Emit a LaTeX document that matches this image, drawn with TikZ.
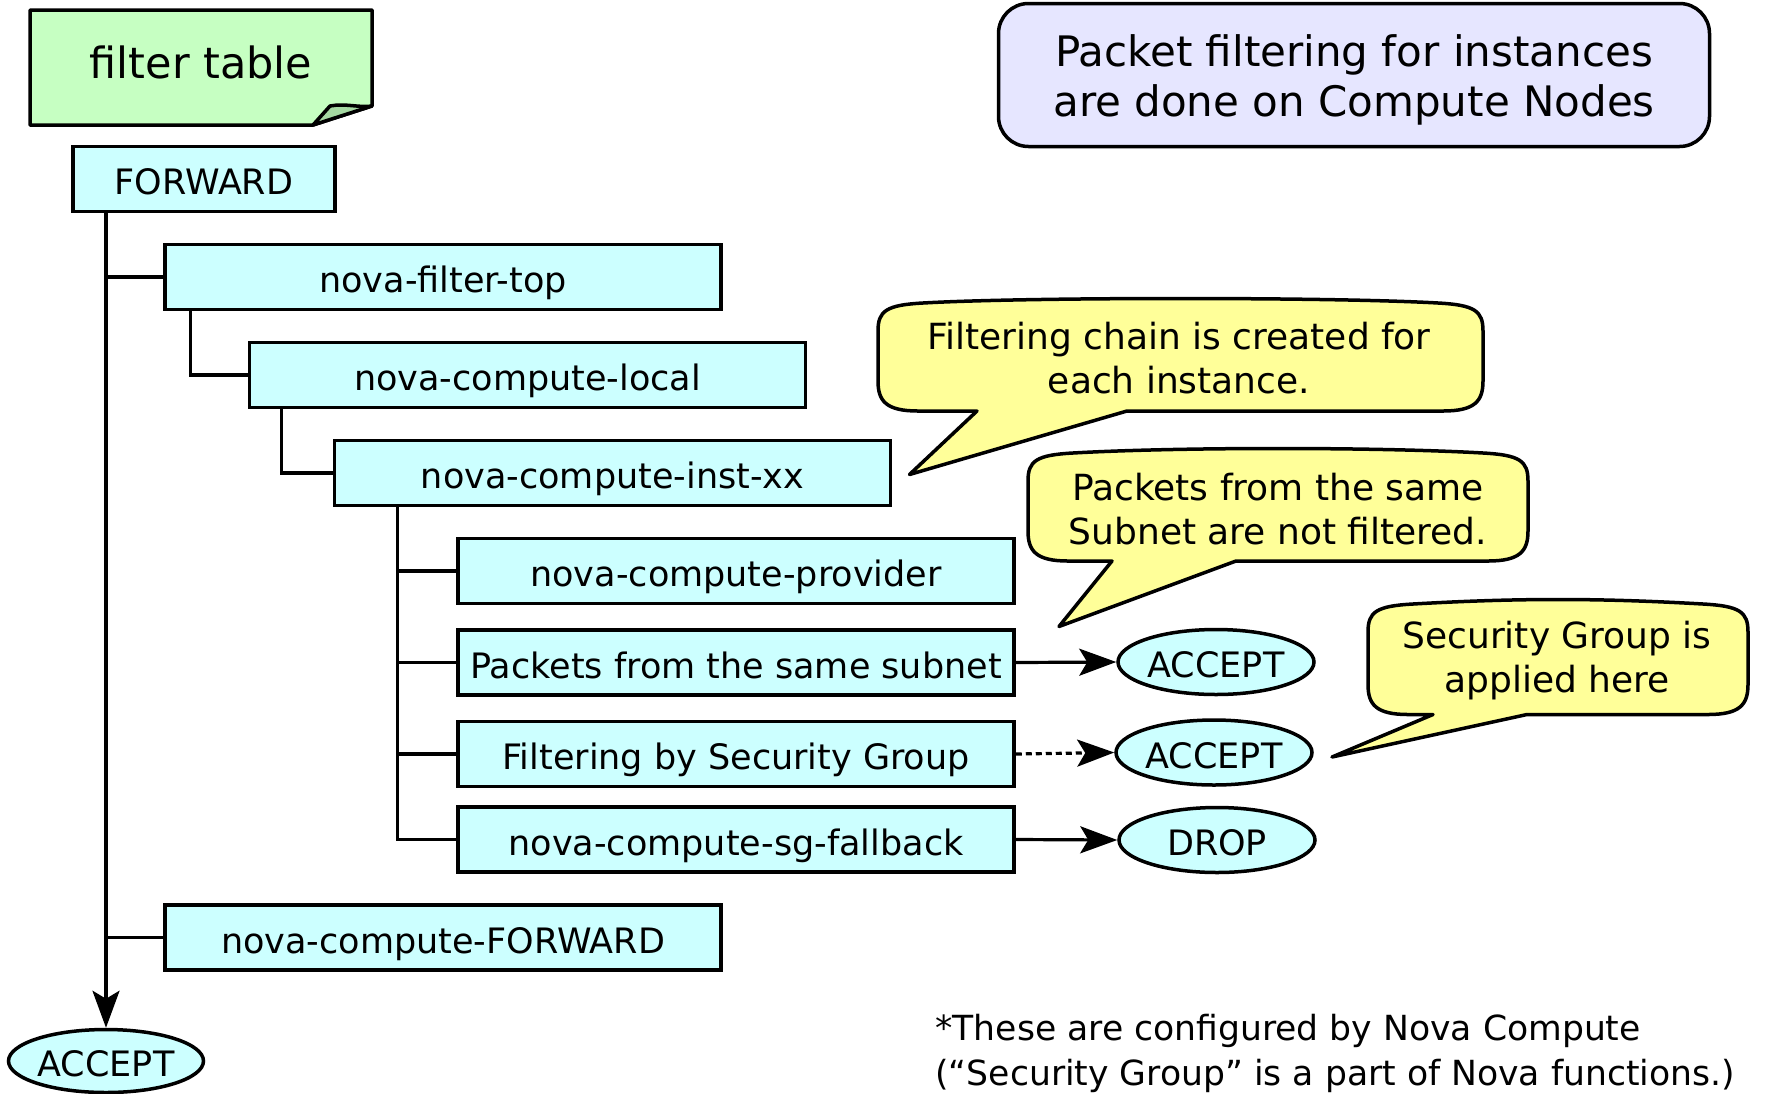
\documentclass[tikz,border=0pt]{standalone}
\usepackage{fontspec}
\setmainfont{DejaVu Sans}
\usetikzlibrary{arrows.meta,shapes.geometric}

\definecolor{chainfill}{HTML}{CCFFFF}
\definecolor{notefill}{HTML}{C6FFC2}
\definecolor{notefold}{HTML}{A5D9A2}
\definecolor{callfill}{HTML}{FFFF99}
\definecolor{infofill}{HTML}{E6E6FF}

\tikzset{
  chainbox/.style={draw, line width=1.75pt, fill=chainfill, minimum width=278pt,
    minimum height=32.5pt, inner sep=0pt, text height=17pt, text depth=1.5pt,
    font=\fontsize{17.5}{21}\selectfont},
  target/.style={draw, ellipse, line width=1.75pt, fill=chainfill, minimum width=98pt,
    minimum height=32.5pt, inner sep=0pt, text height=17pt, text depth=1.5pt,
    font=\fontsize{17.5}{21}\selectfont},
  link/.style={line width=1.6pt},
  jump/.style={line width=1.6pt, -{Stealth[length=18.5pt,width=13.5pt,inset=4pt]}},
  bubble/.style={draw, line width=1.75pt, fill=callfill, line join=round},
  bubbletext/.style={align=center, inner sep=0pt, font=\fontsize{18}{22}\selectfont},
}

% speech bubble: left, top, right, bottom, pointer base left, pointer base right, tip x, tip y
\newcommand{\bubblepath}[8]{%
  \draw[bubble] (#6,#4) -- ({#3-40},#4)
    .. controls ({#3-8},#4) and (#3,{#4-10}) .. (#3,{#4-30})
    -- (#3,{#2+32})
    .. controls (#3,{#2+12}) and ({#3-8},{#2+6}) .. ({#3-45},{#2+4})
    .. controls ({#3-150},{#2-2}) and ({#1+150},{#2-2}) .. ({#1+45},{#2+4})
    .. controls ({#1+8},{#2+6}) and (#1,{#2+12}) .. (#1,{#2+32})
    -- (#1,{#4-30})
    .. controls (#1,{#4-10}) and ({#1+8},#4) .. ({#1+40},#4)
    -- (#5,#4) -- (#7,#8) -- cycle;}

\begin{document}
\begin{tikzpicture}[x=0.5pt,y=-0.5pt]
\useasboundingbox (0,0) rectangle (1767,1093);

% folded note with the table name
\draw[line width=1.75pt, fill=notefill, line join=round]
  (30,10) -- (372,10) -- (372,106) -- (313,125) -- (30,125) -- cycle;
\draw[line width=1.75pt, fill=notefold, line join=round]
  (313,125) -- (330,106) .. controls (345,103) and (360,108) .. (372,106) -- cycle;
\node[font=\fontsize{21.5}{25}\selectfont] (tablename) at (201,62) {filter table};

% information box
\node[draw, rounded corners=15pt, fill=infofill, line width=1.75pt,
  minimum width=355.5pt, minimum height=71.5pt, align=center,
  font=\fontsize{21}{25}\selectfont] (info) at (1354,75) {};
\node[align=center, inner sep=0pt, font=\fontsize{21}{25}\selectfont]
  (infotext) at (1354,79.5) {Packet filtering for instances\\are done on Compute Nodes};

% chains
\node[chainbox, minimum width=131pt] (fwd) at (204,179) {FORWARD};
\node[chainbox] (ftop) at (443,277) {nova-filter-top};
\node[chainbox] (local) at (527.5,375) {nova-compute-local};
\node[chainbox] (inst) at (612.5,473) {nova-compute-inst-xx};
\node[chainbox] (prov) at (736,571) {nova-compute-provider};
\node[chainbox] (subnet) at (736,662.5) {Packets from the same subnet};
\node[chainbox] (secgrp) at (736,754) {Filtering by Security Group};
\node[chainbox] (fallback) at (736,839.5) {nova-compute-sg-fallback};
\node[chainbox] (cfwd) at (443,937.5) {nova-compute-FORWARD};

% verdicts
\node[target, minimum width=97.5pt, minimum height=31.5pt] (acc) at (106,1061) {ACCEPT};
\node[target] (acca) at (1216,662) {ACCEPT};
\node[target] (accb) at (1214,752.5) {ACCEPT};
\node[target] (drop) at (1217,840) {DROP};

% chain jumps
\draw[jump] (fwd.south -| acc.north) -- (acc.north);
\draw[link] (acc.north |- ftop.west) -- (ftop.west);
\draw[link] (acc.north |- cfwd.west) -- (cfwd.west);
\draw[link] ([xshift=13.5pt]ftop.south west) |- (local.west);
\draw[link] ([xshift=17pt]local.south west) |- (inst.west);
\draw[link] ([xshift=32.5pt]inst.south west) coordinate (trunk) |- (fallback.west);
\draw[link] (trunk |- prov.west) -- (prov.west);
\draw[link] (trunk |- subnet.west) -- (subnet.west);
\draw[link] (trunk |- secgrp.west) -- (secgrp.west);

\draw[jump] (subnet.east) -- (acca.west);
\draw[jump, dash pattern=on 3pt off 2pt] (secgrp.east) -- (accb.west);
\draw[jump] (fallback.east) -- (drop.west);

% remarks
\bubblepath{878}{299}{1483}{411}{977}{1127}{909.5}{474.5}
\node[bubbletext] (remarka) at (1179,358) {Filtering chain is created for\\each instance.};
\bubblepath{1028}{449}{1528}{561}{1112}{1236}{1059}{626.5}
\node[bubbletext] (remarkb) at (1278,509) {Packets from the same\\Subnet are not filtered.};
\bubblepath{1368}{600}{1748}{714.5}{1433}{1527}{1332}{757}
\node[bubbletext] (remarkc) at (1557,660.5) {Security Group is\\applied here};

\node[anchor=west, align=left, inner sep=0pt, font=\fontsize{17.3}{22.5}\selectfont]
  (footnote) at (935,1053)
  {*These are configured by Nova Compute\\(“Security Group” is a part of Nova functions.)};
\end{tikzpicture}
\end{document}
